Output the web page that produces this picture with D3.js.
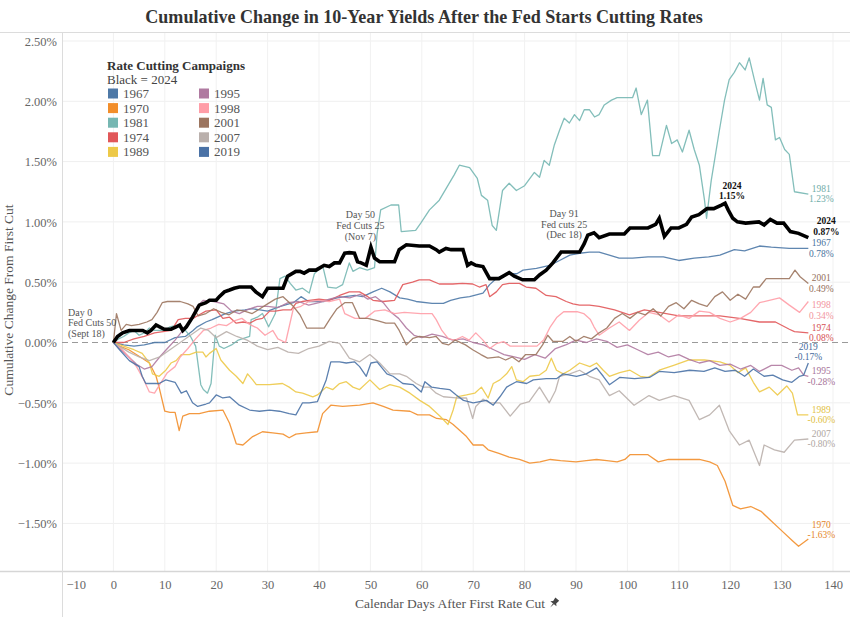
<!DOCTYPE html>
<html><head><meta charset="utf-8">
<script src="https://cdn.jsdelivr.net/npm/d3@7"></script>
<style>
body{margin:0;background:#fff}
svg text{font-family:Georgia,'Liberation Serif','DejaVu Serif',serif}
</style>
</head><body>
<svg id="chart" width="850" height="617"></svg>
<script>
// ---------------- DATA ----------------
const title = "Cumulative Change in 10-Year Yields After the Fed Starts Cutting Rates";
const campaigns = ["1967","1970","1981","1974","1989","1995","1998","2001","2007","2019"];
const campaignColors = ["#4e79a7","#f28e2b","#76b7b2","#e15759","#edc948","#b07aa1","#ff9da7","#9c755f","#bab0ac","#4a72a6"];
const xTickValues = [-10,0,10,20,30,40,50,60,70,80,90,100,110,120,130,140];
const yTickValues = [2.5,2,1.5,1,0.5,0,-0.5,-1,-1.5];
const endValues = {"1967":"0.78%","1970":"-1.63%","1981":"1.23%","1974":"0.08%","1989":"-0.60%","1995":"-0.28%","1998":"0.34%","2001":"0.49%","2007":"-0.80%","2019":"-0.17%","2024":"0.87%"};
const peak2024 = {day:119, value:1.15, label:"1.15%"};
const annotations = [
  {day:0, lines:["Day 0","Fed Cuts 50","(Sept 18)"]},
  {day:50, lines:["Day 50","Fed Cuts 25","(Nov 7)"]},
  {day:91, lines:["Day 91","Fed cuts 25","(Dec 18)"]}
];

const s2024 = [[0,0],[0.8,0.05],[1.8,0.08],[3.1,0.10],[5.7,0.10],[6.6,0.08],[7.3,0.10],[8.3,0.145],[9,0.13],[9.9,0.11],[11.2,0.11],[12.2,0.13],[12.9,0.145],[13.5,0.10],[14.2,0.13],[15.4,0.21],[16.7,0.31],[18,0.33],[18.7,0.35],[20,0.35],[20.6,0.38],[21.6,0.42],[22.6,0.435],[23.5,0.45],[24.5,0.46],[26.8,0.46],[27.7,0.42],[29,0.38],[30,0.45],[33,0.45],[33.9,0.55],[35.5,0.59],[36.3,0.59],[37.1,0.575],[38.1,0.60],[39.4,0.60],[40,0.615],[41,0.64],[42,0.63],[43,0.66],[44,0.66],[45,0.74],[45.9,0.745],[46.9,0.74],[47.5,0.67],[48.2,0.66],[49.2,0.64],[50.1,0.79],[50.8,0.70],[51.8,0.67],[54.7,0.67],[55.6,0.77],[57,0.81],[59.5,0.80],[61.5,0.80],[62.8,0.77],[63.4,0.75],[64.7,0.78],[65.7,0.77],[68,0.77],[68.9,0.64],[69.6,0.66],[70.5,0.64],[71.9,0.63],[73.2,0.53],[75,0.53],[77,0.58],[78,0.55],[79.6,0.52],[81.9,0.52],[82.9,0.56],[84.2,0.60],[85.5,0.66],[87.1,0.75],[90.7,0.75],[91.6,0.82],[92.3,0.89],[93.5,0.91],[94.5,0.87],[96.5,0.90],[98,0.90],[99.4,0.90],[100.5,0.95],[102.5,0.95],[104,0.95],[105.5,0.98],[106.2,1.03],[107.2,0.88],[108.5,0.95],[110,0.95],[111.5,0.98],[112.5,1.04],[113.9,1.06],[115.5,1.11],[116.8,1.11],[118.3,1.14],[119,1.155],[119.6,1.10],[120.5,1.03],[121.4,1.0],[123,0.99],[125.6,1.0],[126.6,0.975],[127.8,1.02],[129.1,0.99],[130.4,0.99],[131.7,0.92],[133.3,0.905],[135.2,0.87]];

const s1967 = [[0,0],[2,-0.02],[4,-0.03],[6,-0.02],[8,0.0],[10,0.0],[12,0.04],[14,0.05],[15.5,0.10],[16.3,0.13],[18,0.17],[19.2,0.19],[21.8,0.24],[23.5,0.26],[25.6,0.27],[27,0.28],[28.5,0.27],[30,0.26],[32.5,0.30],[35,0.33],[36.5,0.38],[38,0.34],[41,0.34],[43.5,0.37],[45,0.38],[47,0.39],[48.5,0.38],[50.5,0.42],[52.2,0.45],[53.8,0.42],[55.7,0.37],[57.2,0.36],[58.9,0.34],[62,0.325],[64.2,0.325],[65.6,0.35],[67.5,0.37],[69.3,0.38],[71.9,0.41],[73.2,0.48],[74.5,0.53],[76.5,0.57],[78.5,0.57],[79.7,0.60],[82.3,0.615],[84.9,0.64],[86.8,0.68],[88.8,0.725],[90.7,0.74],[92.6,0.75],[94.5,0.75],[98.4,0.70],[101,0.70],[104,0.71],[107,0.71],[110,0.68],[113,0.70],[115.8,0.71],[118,0.725],[120.8,0.77],[122.8,0.76],[125.7,0.80],[128,0.79],[131.5,0.78],[135.2,0.78]];

const s1970 = [[0,0],[1.2,-0.03],[3,-0.06],[5.6,-0.13],[7,-0.17],[8.3,-0.28],[9,-0.39],[10,-0.57],[11,-0.58],[12,-0.58],[12.8,-0.73],[13.5,-0.61],[14.8,-0.59],[16.7,-0.59],[18.7,-0.57],[21.3,-0.56],[22.6,-0.67],[23.9,-0.84],[25.2,-0.85],[27.1,-0.78],[29,-0.74],[31,-0.75],[33,-0.76],[34.2,-0.79],[35.5,-0.76],[37.5,-0.75],[39.7,-0.74],[40.7,-0.59],[42.3,-0.52],[44.6,-0.53],[47.9,-0.52],[50.5,-0.50],[52.5,-0.53],[54.4,-0.56],[57.7,-0.57],[59.2,-0.60],[61.5,-0.60],[62.9,-0.63],[64.8,-0.64],[66.1,-0.68],[67.4,-0.73],[68.7,-0.78],[70,-0.85],[71.9,-0.85],[72.9,-0.89],[75,-0.92],[77,-0.95],[79,-0.97],[81,-1.0],[83,-0.99],[85,-0.97],[87,-0.98],[90,-0.99],[92,-0.98],[94,-0.97],[96,-0.98],[98,-0.99],[99.5,-0.97],[100.5,-0.93],[102,-0.93],[104,-0.93],[106,-0.99],[108,-0.97],[110,-0.97],[114,-0.97],[116,-0.99],[117.5,-1.02],[119,-1.15],[120.5,-1.35],[122,-1.38],[124,-1.36],[126,-1.40],[128,-1.48],[130,-1.56],[132,-1.64],[133.3,-1.69],[135.2,-1.63]];

const s1981 = [[0,0],[1,0.03],[2,0.05],[3,0.08],[4,0.10],[5,0.06],[6,0.08],[7,0.12],[8,0.10],[10,0.10],[11,0.13],[12,0.14],[13,0.12],[14,0.10],[15,0.05],[16,-0.03],[17,-0.35],[17.5,-0.39],[18.3,-0.42],[19,-0.34],[19.8,0.06],[20.6,-0.03],[21.5,-0.05],[23,-0.02],[24.3,0.02],[26.5,0.05],[26.8,0.19],[28,0.21],[29,0.24],[30.2,0.13],[31.5,0.24],[32.4,0.53],[33.4,0.55],[34.4,0.49],[35.5,0.435],[36.8,0.45],[38.1,0.41],[39.1,0.57],[40.7,0.64],[41.7,0.46],[43.3,0.45],[44.6,0.48],[45.9,0.66],[46.6,0.59],[47.9,0.62],[49.4,0.60],[50.8,0.62],[51.3,0.90],[52,1.10],[54,1.14],[55.5,1.14],[56,0.92],[58.8,0.93],[59.8,0.99],[61.5,1.10],[63.4,1.18],[66.3,1.39],[67.3,1.47],[69.3,1.45],[70.8,1.36],[71.6,1.22],[72.8,1.18],[73.7,0.97],[74.5,0.93],[75.7,1.26],[77,1.32],[78.4,1.26],[80,1.30],[81.9,1.41],[82.9,1.37],[83.8,1.51],[84.8,1.47],[85.8,1.64],[86.8,1.76],[87.7,1.86],[88.7,1.82],[89.7,1.89],[90.7,1.84],[91.6,1.93],[92.6,1.93],[93.6,1.87],[94.5,1.89],[95.5,1.97],[96.9,2.01],[98,2.03],[101,2.03],[101.7,2.11],[102.7,1.89],[103.9,2.01],[104.9,1.55],[106.2,1.55],[107.6,1.80],[108.6,1.65],[109.7,1.68],[110.7,1.58],[112,1.76],[113,1.60],[114,1.47],[115,1.18],[115.4,1.03],[116.3,1.34],[117.1,1.55],[117.9,1.76],[118.9,2.01],[119.8,2.18],[120.8,2.24],[121.8,2.32],[122.9,2.26],[123.7,2.36],[124.7,2.18],[125.7,2.01],[126.4,2.19],[127.2,1.97],[128,1.95],[128.8,1.68],[129.6,1.70],[130.6,1.60],[131.5,1.56],[132.5,1.25],[135.2,1.23]];

const s1974 = [[0,0],[2,0.0],[4,0.03],[6,0.05],[8,0.08],[11.3,0.10],[12.6,0.19],[14,0.20],[15.5,0.20],[16.7,0.23],[18,0.26],[20,0.27],[21.3,0.20],[22.6,0.21],[23.9,0.16],[25.2,0.17],[26.5,0.16],[27.8,0.19],[29,0.20],[30.4,0.26],[31.5,0.26],[33,0.27],[34.6,0.27],[35.5,0.325],[36.8,0.34],[38.1,0.35],[40,0.36],[42,0.35],[44,0.39],[45.9,0.42],[47.9,0.42],[49.5,0.38],[50.5,0.35],[52.5,0.34],[54.7,0.35],[56.3,0.48],[58.2,0.50],[59.5,0.52],[61.5,0.52],[63.4,0.485],[66,0.485],[67.9,0.49],[69.9,0.485],[71.2,0.46],[72.5,0.48],[73.2,0.38],[74.5,0.42],[75.7,0.48],[77,0.49],[79,0.49],[80.3,0.46],[82.2,0.45],[84.2,0.39],[86.1,0.38],[88.1,0.34],[89.4,0.32],[90.7,0.31],[92.6,0.31],[94.5,0.30],[97.5,0.27],[100.4,0.23],[103.3,0.27],[106.2,0.25],[110,0.22],[114,0.22],[118,0.22],[121.8,0.20],[125.7,0.17],[128.8,0.17],[131.5,0.11],[132.5,0.09],[135.2,0.08]];

const s1989 = [[0,0],[2,-0.03],[4,-0.06],[5.6,-0.09],[7,-0.17],[7.6,-0.26],[8.9,-0.28],[10.2,-0.23],[11.2,-0.17],[12.2,-0.15],[13.2,-0.10],[14.8,-0.10],[16.1,-0.08],[17.4,-0.08],[18,-0.12],[18.7,-0.09],[20,-0.05],[20.9,-0.145],[22.6,-0.23],[23.9,-0.28],[25.2,-0.34],[26.1,-0.26],[27.1,-0.31],[27.8,-0.35],[30.4,-0.35],[32.9,-0.34],[34.2,-0.37],[35.5,-0.41],[36.8,-0.42],[38.8,-0.45],[39.7,-0.435],[41.4,-0.37],[42.7,-0.39],[44,-0.34],[45.3,-0.325],[46.6,-0.37],[47.9,-0.39],[49.9,-0.31],[51.8,-0.39],[53.8,-0.35],[55.7,-0.37],[57.7,-0.42],[59.6,-0.48],[61.5,-0.53],[63.5,-0.61],[65.1,-0.68],[66.1,-0.56],[66.8,-0.45],[68.7,-0.435],[70.3,-0.42],[71.6,-0.37],[72.9,-0.46],[73.9,-0.34],[75.2,-0.31],[76.5,-0.26],[77.5,-0.20],[78.4,-0.31],[79.7,-0.325],[81,-0.28],[82.9,-0.27],[84.2,-0.23],[85.2,-0.13],[86.2,-0.23],[87.5,-0.26],[88.8,-0.23],[90.7,-0.17],[92.7,-0.20],[94,-0.17],[95.3,-0.23],[96.5,-0.28],[98.5,-0.25],[100.5,-0.23],[102.5,-0.28],[104,-0.29],[106.2,-0.23],[109,-0.19],[112,-0.145],[115,-0.145],[118,-0.16],[120,-0.19],[121.5,-0.25],[123,-0.21],[124.5,-0.33],[125.7,-0.41],[127.6,-0.37],[129.2,-0.435],[131,-0.36],[132.1,-0.42],[133.1,-0.60],[135.2,-0.60]];

const s1995 = [[0,0],[1.5,-0.06],[3,-0.12],[4.5,-0.18],[6,-0.22],[7.5,-0.20],[9,-0.12],[10.5,-0.05],[12,0.02],[13.5,0.10],[15,0.18],[16.3,0.30],[17.5,0.35],[19.5,0.34],[21.5,0.32],[23,0.26],[24.5,0.24],[26,0.27],[28,0.30],[30,0.30],[32,0.29],[34,0.33],[36,0.34],[38,0.31],[40,0.33],[42,0.36],[44,0.38],[46,0.37],[48,0.40],[49.5,0.36],[51,0.38],[52.5,0.33],[54,0.25],[55.5,0.20],[57,0.12],[58.5,0.06],[60,0.04],[62,0.07],[64,0.05],[66,0.02],[68,0.03],[70,0.0],[72,-0.02],[74,-0.06],[76,-0.10],[78,-0.12],[80,-0.14],[82,-0.10],[84,-0.13],[86,-0.05],[88,-0.02],[90,0.02],[92,0.0],[94,0.03],[96,0.01],[98,-0.04],[100,-0.02],[102,-0.06],[104,-0.10],[106,-0.08],[108,-0.12],[110,-0.10],[112,-0.14],[114,-0.17],[116,-0.15],[118,-0.19],[120,-0.18],[122,-0.22],[124,-0.19],[125.7,-0.24],[128,-0.19],[130,-0.19],[132,-0.23],[133.3,-0.21],[134.3,-0.27],[135.2,-0.28]];

const s1998 = [[0,0],[1.5,-0.05],[3,-0.12],[4.5,-0.2],[5.8,-0.30],[7,-0.41],[8,-0.42],[9,-0.35],[10.5,-0.25],[12,-0.20],[13,-0.12],[14.5,-0.05],[16,0.03],[17.5,0.10],[19,0.12],[20.5,0.15],[22,0.14],[23.5,0.18],[25,0.20],[26.5,0.15],[28,0.12],[29.5,0.06],[31,0.10],[32,0.03],[33.5,0.0],[35,0.28],[36.5,0.30],[38,0.34],[40,0.35],[42,0.34],[44,0.36],[45,0.24],[47,0.20],[49,0.20],[50.8,0.26],[52.8,0.27],[54.7,0.24],[56.6,0.25],[59.8,0.24],[62,0.24],[62.8,0.19],[63.9,0.10],[65.2,0.03],[66.5,0.02],[67.9,0.05],[69.2,0.02],[70.5,0.08],[71.9,0.02],[73.2,-0.05],[74.5,-0.01],[75.9,0.007],[77.2,-0.03],[79.8,-0.03],[82.4,-0.03],[83.7,0.02],[85,0.13],[86.3,0.21],[87.6,0.255],[90.2,0.255],[91.5,0.24],[92.8,0.19],[93.5,0.13],[94.5,0.06],[96.5,0.12],[98.4,0.17],[100.4,0.10],[102.3,0.185],[104.2,0.25],[106.2,0.23],[108.1,0.17],[110,0.23],[112,0.20],[114,0.26],[116,0.25],[118,0.20],[120,0.17],[122,0.20],[124,0.25],[125.7,0.33],[127.6,0.35],[129.6,0.37],[131.5,0.31],[133.5,0.25],[135.2,0.34]];

const s2001 = [[0,0],[0.6,0.24],[1.5,0.10],[2.5,0.15],[3.5,0.14],[5,0.15],[6.5,0.17],[7.5,0.19],[8.5,0.25],[9.5,0.33],[10.5,0.34],[13,0.34],[14.5,0.32],[15.5,0.30],[16.5,0.22],[18,0.24],[19.5,0.28],[21,0.25],[22.5,0.23],[24,0.27],[25.5,0.26],[27,0.24],[28.5,0.28],[30,0.32],[31.5,0.36],[33,0.38],[35,0.30],[36.3,0.23],[37.6,0.12],[39,0.12],[41,0.12],[42.2,0.20],[43.5,0.28],[45,0.33],[46.5,0.33],[47.9,0.20],[49.5,0.20],[51.5,0.18],[53,0.16],[54.7,0.16],[55.6,0.10],[57,-0.02],[58.3,0.035],[59.5,0.05],[61.5,0.04],[62.8,0.05],[64,-0.007],[65.2,-0.02],[66.5,0.02],[68.5,-0.02],[69.9,-0.06],[71.5,-0.10],[72.8,-0.13],[75,-0.12],[76.3,-0.145],[77.6,-0.12],[78.9,-0.16],[80.2,-0.10],[82.2,-0.10],[83.5,-0.02],[84.5,0.06],[85.5,0.01],[87.5,0.01],[88.8,0.05],[90,0.01],[91.5,0.05],[93,0.03],[94.5,0.08],[96,0.12],[97.5,0.20],[99,0.24],[100.5,0.20],[102,0.25],[103.5,0.23],[105,0.28],[106.5,0.22],[108,0.30],[109.5,0.33],[111,0.28],[112.5,0.35],[114,0.32],[115.5,0.30],[117,0.38],[118.5,0.42],[120,0.35],[121.5,0.40],[123,0.36],[124.5,0.46],[125.7,0.46],[127,0.53],[129.7,0.53],[131.5,0.53],[132.6,0.60],[133.6,0.545],[135.2,0.49]];

const s2007 = [[0,0],[1.5,-0.04],[3,-0.08],[5,-0.12],[7,-0.15],[9,-0.12],[11,-0.06],[13,0.0],[15,0.06],[17,0.12],[18.5,0.10],[20,0.04],[22,0.09],[24,0.05],[26,0.02],[28,-0.03],[30,-0.06],[32,-0.04],[34,-0.08],[36,-0.09],[38,-0.05],[40,-0.03],[42,0.01],[44,-0.007],[45.9,-0.13],[47.9,-0.16],[49.9,-0.10],[51.8,-0.17],[53.8,-0.26],[55.7,-0.26],[57,-0.28],[58.9,-0.34],[60.3,-0.37],[61.5,-0.37],[62.8,-0.42],[64.2,-0.45],[66.7,-0.46],[68.7,-0.46],[69.9,-0.63],[70.5,-0.53],[71.9,-0.47],[73.2,-0.50],[75.2,-0.50],[77.2,-0.61],[79.2,-0.51],[80.9,-0.49],[82.9,-0.37],[84.8,-0.50],[86,-0.40],[86.8,-0.28],[88.8,-0.26],[90.7,-0.23],[92.6,-0.28],[94.5,-0.31],[96.5,-0.44],[98.4,-0.40],[101.3,-0.52],[104.2,-0.44],[106.2,-0.48],[109.1,-0.44],[112,-0.48],[114,-0.64],[116,-0.60],[117.9,-0.52],[119.8,-0.73],[121.8,-0.85],[123.7,-0.81],[125.7,-1.02],[126.6,-0.85],[128.6,-0.89],[130.5,-0.91],[132.5,-0.81],[135.2,-0.80]];

const s2019 = [[0,0],[1.2,-0.06],[3.1,-0.15],[5,-0.20],[5.6,-0.28],[6.3,-0.34],[8.9,-0.34],[10.2,-0.31],[12,-0.33],[13.2,-0.42],[14.2,-0.40],[15.4,-0.50],[16.4,-0.53],[18,-0.51],[18.7,-0.50],[20,-0.435],[21.3,-0.46],[22.6,-0.45],[24.5,-0.52],[26.5,-0.56],[28.4,-0.57],[30.4,-0.56],[32.3,-0.57],[34.2,-0.59],[35.5,-0.60],[36.8,-0.50],[38.1,-0.50],[39.7,-0.49],[41.4,-0.31],[42.3,-0.16],[44,-0.16],[45.3,-0.17],[46.9,-0.16],[47.9,-0.20],[49.2,-0.28],[50.1,-0.17],[51.3,-0.16],[53.2,-0.26],[54.4,-0.28],[56.3,-0.34],[58.3,-0.35],[59.9,-0.41],[60.6,-0.325],[61.9,-0.37],[63.5,-0.38],[65.4,-0.39],[66.7,-0.435],[68.1,-0.48],[70,-0.50],[72.6,-0.48],[73.9,-0.52],[75.2,-0.45],[76.5,-0.37],[78.4,-0.325],[80.4,-0.34],[81.7,-0.31],[84.2,-0.30],[86.2,-0.30],[87.5,-0.26],[90.1,-0.28],[92,-0.26],[94,-0.21],[95.3,-0.28],[96.5,-0.35],[98.5,-0.29],[101.4,-0.30],[104.3,-0.29],[106.2,-0.24],[109.1,-0.25],[112.1,-0.23],[114.9,-0.24],[117,-0.21],[119,-0.24],[121,-0.23],[122.8,-0.28],[124.5,-0.22],[126.6,-0.28],[128.3,-0.27],[130.2,-0.31],[132,-0.33],[133.5,-0.28],[134.3,-0.27],[135.2,-0.17]];

const seriesValues = {"1967":s1967,"1970":s1970,"1981":s1981,"1974":s1974,"1989":s1989,"1995":s1995,"1998":s1998,"2001":s2001,"2007":s2007,"2019":s2019};

// ---------------- LAYOUT / STYLE ----------------
const W = 850, H = 617;
const plot = {left:62, right:850, top:32, bottom:571};
const labelShift = {"1981":0,"1967":0,"2001":0,"1998":9,"1974":0,"2019":-11,"1995":0,"1989":0,"2007":0,"1970":-9,"2024":-11};
const fontFam = "Georgia,'Liberation Serif','DejaVu Serif',serif";
const labFont = 9.5, labGap = 10.5;

const svg = d3.select("#chart");
const x = d3.scaleLinear().domain([-10,140]).range([62, 62 + 150*5.14]);
const y = d3.scaleLinear().domain([-1.5,2.5]).range([523.4, 41]);
const color = d3.scaleOrdinal().domain(campaigns).range(campaignColors);

// gridlines
const grid = svg.append("g");
grid.selectAll(".hg").data(yTickValues.filter(d=>d!==0)).join("line")
  .attr("x1",plot.left).attr("x2",plot.right).attr("y1",d=>y(d)).attr("y2",d=>y(d))
  .attr("stroke","#efefef").attr("stroke-width",1);
grid.selectAll(".vg").data(xTickValues.filter(d=>d>-10)).join("line")
  .attr("x1",d=>x(d)).attr("x2",d=>x(d)).attr("y1",plot.top).attr("y2",plot.bottom)
  .attr("stroke","#f1f1f1").attr("stroke-width",1);

// frame lines
svg.append("line").attr("x1",0).attr("x2",W).attr("y1",plot.top+0.5).attr("y2",plot.top+0.5).attr("stroke","#dcdcdc");
svg.append("line").attr("x1",0).attr("x2",W).attr("y1",plot.bottom+0.5).attr("y2",plot.bottom+0.5).attr("stroke","#d6d6d6").attr("stroke-width",1.5);
svg.append("line").attr("x1",plot.left+0.5).attr("x2",plot.left+0.5).attr("y1",plot.top).attr("y2",H).attr("stroke","#dcdcdc");

// zero line
svg.append("line").attr("x1",plot.left).attr("x2",plot.right).attr("y1",y(0)).attr("y2",y(0))
  .attr("stroke","#9a9a9a").attr("stroke-width",1.2).attr("stroke-dasharray","6,4");

// axes
const yAxis = d3.axisLeft(y).tickValues(yTickValues).tickSize(0).tickPadding(0).tickFormat(d=>d3.format(".2f")(d)+"%");
const gy = svg.append("g").attr("transform",`translate(57,0)`).call(yAxis);
gy.select(".domain").remove();
gy.selectAll("text").attr("font-family",fontFam).attr("font-size",12.5).attr("fill","#666").attr("dy","0.35em");

const xAxis = d3.axisBottom(x).tickValues(xTickValues).tickSize(0).tickPadding(0).tickFormat(d3.format("d"));
const gx = svg.append("g").attr("transform",`translate(0,${plot.bottom+9})`).call(xAxis);
gx.select(".domain").remove();
gx.selectAll("text").attr("font-family",fontFam).attr("font-size",12.5).attr("fill","#666").attr("dy","0.71em");
gx.selectAll(".tick").filter(d=>d===-10).select("text").attr("text-anchor","start").attr("x",4);

// axis titles
svg.append("text").attr("transform",`translate(13,300) rotate(-90)`).attr("text-anchor","middle")
  .attr("font-family",fontFam).attr("font-size",13.5).attr("fill","#555").text("Cumulative Change From First Cut");
const xt = svg.append("text").attr("x",450).attr("y",608).attr("text-anchor","middle")
  .attr("font-family",fontFam).attr("font-size",13.5).attr("fill","#555").text("Calendar Days After First Rate Cut");
const xtEnd = 450 + xt.node().getComputedTextLength()/2;
svg.append("path").attr("transform",`translate(${xtEnd+9},603) rotate(40)`)
  .attr("d","M-2.5,-5 L2.5,-5 L2,-1 L4,1 L-4,1 L-2,-1 Z M-0.6,1 L0.6,1 L0,6 Z").attr("fill","#444");

// title
const tt = svg.append("text").attr("x",424).attr("y",23).attr("text-anchor","middle")
  .attr("font-family",fontFam).attr("font-weight","bold").attr("font-size",17).attr("fill","#333").text(title);
const tw = tt.node().getComputedTextLength();
tt.attr("font-size", 17*558/tw);

// lines
const line = d3.line().x(d=>x(d[0])).y(d=>y(d[1]));
const lg = svg.append("g");
campaigns.forEach(c=>{
  lg.append("path").datum(seriesValues[c]).attr("d",line).attr("fill","none")
    .attr("stroke",color(c)).attr("stroke-width",1.3).attr("stroke-linejoin","round").attr("opacity",0.9);
});
lg.append("path").datum(s2024).attr("d",line).attr("fill","none")
  .attr("stroke","#000").attr("stroke-width",3.6).attr("stroke-linejoin","miter");

// end labels
const labG = svg.append("g").attr("font-family",fontFam).attr("font-size",labFont).attr("text-anchor","middle");
function twoLine(g, cx, cy, a, b, fill, bold){
  const t = g.append("text").attr("fill",fill).attr("font-weight",bold?"bold":"normal");
  t.append("tspan").attr("x",cx).attr("y",cy - labGap/2 + 3).text(a);
  t.append("tspan").attr("x",cx).attr("y",cy + labGap/2 + 3).text(b);
}
campaigns.concat(["2024"]).forEach(c=>{
  const data = c==="2024" ? s2024 : seriesValues[c];
  const last = data[data.length-1];
  const cx = x(last[0]) + (c==="2019" ? 0 : 13) + (c==="2024"?5:0);
  const cy = y(last[1]) + labelShift[c];
  const fill = c==="2024" ? "#111" : d3.color(color(c)).darker(0.15);
  twoLine(labG, cx, cy, c, endValues[c], fill, c==="2024");
});
twoLine(labG, x(peak2024.day)+7, y(peak2024.value)-13, "2024", peak2024.label, "#111", true);

// annotations
const annG = svg.append("g").attr("font-family",fontFam).attr("font-size",10).attr("fill","#555");
const a0 = annG.append("text").attr("text-anchor","start");
annotations[0].lines.forEach((l,i)=>a0.append("tspan").attr("x",68).attr("y",y(0)-27+i*10.7).text(l));
const a1 = annG.append("text").attr("text-anchor","middle");
annotations[1].lines.forEach((l,i)=>a1.append("tspan").attr("x",x(annotations[1].day)-10).attr("y",y(1.03)+i*10.7).text(l));
const a2 = annG.append("text").attr("text-anchor","middle");
annotations[2].lines.forEach((l,i)=>a2.append("tspan").attr("x",x(annotations[2].day)-17).attr("y",y(1.04)+i*10.7).text(l));

// legend
const leg = svg.append("g").attr("font-family",fontFam);
leg.append("text").attr("x",107).attr("y",70).attr("font-weight","bold").attr("font-size",13).attr("fill","#333").text("Rate Cutting Campaigns");
leg.append("text").attr("x",107).attr("y",84).attr("font-size",13).attr("fill","#444").text("Black = 2024");
campaigns.forEach((c,i)=>{
  const col = Math.floor(i/5), row = i%5;
  const lx = col===0 ? 108 : 199, ly = 93.5 + row*14.6;
  leg.append("rect").attr("x",lx).attr("y",ly-5).attr("width",10).attr("height",10).attr("fill",color(c));
  leg.append("text").attr("x",lx+15).attr("y",ly+4.5).attr("font-size",13).attr("fill","#555").text(c);
});
</script>
</body></html>
